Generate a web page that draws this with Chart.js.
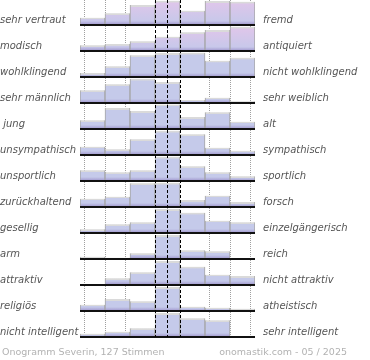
<!DOCTYPE html>
<html><head><meta charset="utf-8">
<script src="https://cdn.jsdelivr.net/npm/chart.js@4/dist/chart.umd.min.js"></script>
<style>
html,body{margin:0;padding:0;background:#fff;}
#wrap{position:relative;width:370px;height:360px;overflow:hidden;}
canvas{position:absolute;left:0;top:0;}
.foot{position:absolute;top:346px;font-family:'DejaVu Sans',sans-serif;font-size:9.5px;color:#b2b2b2;line-height:12px;white-space:nowrap;}
</style></head><body>
<div id="wrap"><canvas id="c" width="370" height="360"></canvas>
<div class="foot" style="left:2px">Onogramm Severin, 127 Stimmen</div>
<div class="foot" style="right:23px">onomastik.com - 05 / 2025</div></div>
<script>
const leftLabels = ['sehr vertraut','modisch','wohlklingend','sehr männlich',' jung','unsympathisch','unsportlich','zurückhaltend','gesellig','arm','attraktiv','religiös','nicht intelligent'];
const rightLabels = ['fremd','antiquiert','nicht wohlklingend','sehr weiblich','alt','sympathisch','sportlich','forsch','einzelgängerisch','reich','nicht attraktiv','atheistisch','sehr intelligent'];
const columns = ['1','2','3','4','5','6','7'];
// bar heights per row, percent of the row's full height
const shares = [
  [29, 47, 80, 97, 57, 96, 93],
  [23, 28, 39, 57, 75, 84, 97],
  [16, 43, 87, 96, 97, 65, 77],
  [51, 75, 97, 84, 12, 21, 7],
  [35, 84, 72, 98, 48, 67, 29],
  [33, 23, 63, 97, 83, 29, 17],
  [43, 35, 43, 97, 59, 35, 19],
  [33, 41, 95, 97, 28, 45, 20],
  [15, 35, 43, 96, 81, 49, 43],
  [9, 5, 23, 96, 35, 31, 0],
  [0, 27, 51, 96, 73, 41, 36],
  [25, 48, 39, 96, 17, 13, 9],
  [13, 21, 35, 96, 75, 67, 0]
];
const pinkRows = [0, 1];

const NROWS = leftLabels.length;
const Y_MAX = 12.96;
const ROW_FILL = 0.96;
const LABEL_OFF = 0.17;

const PINK=[224,198,234], LAV=[200,200,234], BLUE=[197,202,234], PURPLE=[158,148,204], EDGE='rgb(218,218,218)';
function mix(a,b,t){t=Math.max(0,Math.min(1,t));return 'rgb('+a.map((v,i)=>Math.round(v+(b[i]-v)*t)).join(',')+')';}
function bodyColor(row,p){ return pinkRows.includes(row) ? mix(PINK,LAV,p/0.85) : mix(BLUE,BLUE,0); }

function barFill(ctx){
  if (ctx.type !== 'data') return mix(BLUE,BLUE,0);
  const chart = ctx.chart, ys = chart.scales.y, raw = ctx.raw;
  if (!chart.chartArea || !ys || !raw) return mix(BLUE,BLUE,0);
  const row = ctx.datasetIndex;
  const top = ys.getPixelForValue(raw[1]);
  const base = ys.getPixelForValue(raw[0]);
  const rowTop = ys.getPixelForValue(raw[0] + 1);
  const rowH = base - rowTop;
  const h = Math.max(base - top, 0.5);
  const g = chart.ctx.createLinearGradient(0, top, 0, base);
  const e = Math.min(1.5 / h, 0.4);
  g.addColorStop(0, EDGE);
  g.addColorStop(e, EDGE);
  g.addColorStop(Math.min(e + 0.02, 1), bodyColor(row, (top - rowTop) / rowH));
  const band = Math.min(1, Math.max(e + 0.03, 1 - 4 / h));
  g.addColorStop(band, bodyColor(row, (base - 4 - rowTop) / rowH));
  g.addColorStop(1, mix(PURPLE,PURPLE,0));
  return g;
}

const datasets = shares.map((vals, r) => {
  const b = NROWS - 1 - r;
  return {
    label: leftLabels[r],
    data: vals.map(v => v > 0 ? [b, b + v / 100 * ROW_FILL] : null),
    grouped: false,
    barPercentage: 1,
    categoryPercentage: 1,
    backgroundColor: barFill,
    borderColor: '#a4a4a4',
    borderWidth: {left: 1, right: 1, top: 0, bottom: 0},
    borderSkipped: false
  };
});

const labelFont = {family: "'DejaVu Sans', sans-serif", size: 10, style: 'italic'};
const rowTicks = s => { s.ticks = leftLabels.map((_, i) => ({value: NROWS - 1 - i + LABEL_OFF})); };
const noPad = s => { s.paddingTop = 0; s.paddingBottom = 0; s.paddingLeft = 0; s.paddingRight = 0; };

new Chart(document.getElementById('c'), {
  type: 'bar',
  data: {labels: columns, datasets},
  options: {
    responsive: false, animation: false, devicePixelRatio: 1,
    layout: {padding: {left: 0, right: 0, top: 0, bottom: 23}},
    plugins: {legend: {display: false}, tooltip: {enabled: false}},
    scales: {
      x: {type: 'category', display: false, offset: true},
      y: {type: 'linear', min: 0, max: Y_MAX, position: 'left',
          ticks: {display: false}, border: {display: false},
          grid: {color: '#111', lineWidth: 2, drawTicks: false, z: 1},
          afterBuildTicks: s => { s.ticks = leftLabels.map((_, i) => ({value: i})); },
          afterFit: s => { s.width = 0; noPad(s); }},
      yl: {type: 'linear', min: 0, max: Y_MAX, position: 'left',
           grid: {display: false, drawTicks: false}, border: {display: false},
           ticks: {autoSkip: false, crossAlign: 'far', color: '#555', font: labelFont,
                   callback: (v, i) => leftLabels[i]},
           afterBuildTicks: rowTicks,
           afterFit: s => { s.width = 80; noPad(s); }},
      yr: {type: 'linear', min: 0, max: Y_MAX, position: 'right',
           grid: {display: false, drawTicks: false}, border: {display: false},
           ticks: {autoSkip: false, crossAlign: 'near', padding: 8, color: '#555', font: labelFont,
                   callback: (v, i) => rightLabels[i]},
           afterBuildTicks: rowTicks,
           afterFit: s => { s.width = 115; noPad(s); }},
      xg: {type: 'linear', min: 0, max: 7, position: 'bottom',
           ticks: {display: false}, border: {display: false, dash: [1, 1]},
           grid: {color: '#a0a0a0', lineWidth: 1, drawTicks: false},
           afterBuildTicks: s => { s.ticks = [0, 1, 2, 5, 6, 7].map(v => ({value: v})); },
           afterFit: s => { s.height = 0; noPad(s); }},
      xd: {type: 'linear', min: 0, max: 7, position: 'bottom',
           ticks: {display: false}, border: {display: false, dash: [3, 2]},
           grid: {color: '#000', lineWidth: 1, drawTicks: false, z: 2},
           afterBuildTicks: s => { s.ticks = [3, 4].map(v => ({value: v})); },
           afterFit: s => { s.height = 0; noPad(s); }}
    }
  }
});
</script>
</body></html>
